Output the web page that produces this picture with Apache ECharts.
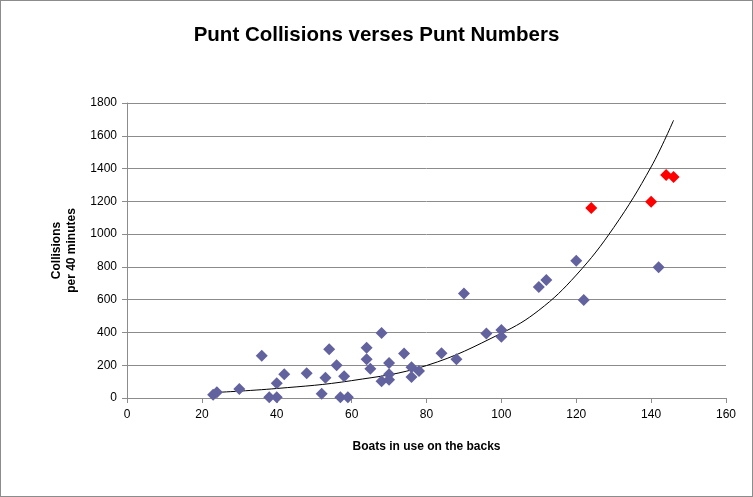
<!DOCTYPE html>
<html>
<head>
<meta charset="utf-8">
<script src="https://cdn.jsdelivr.net/npm/echarts@6/dist/echarts.min.js"></script>
<style>
html,body{margin:0;padding:0;background:#fff;}
#frame{position:absolute;left:0;top:0;width:751px;height:495px;border:1px solid #8c8c8c;}
#chart{position:absolute;left:0;top:0;width:753px;height:497px;}
</style>
</head>
<body>
<div id="frame"></div>
<div id="chart"></div>
<script>
// Blue data points (boats in use, collisions per 40 minutes)
const blueX = [23, 24, 30, 36, 38, 40, 40, 42, 48, 52, 53, 54, 56, 57, 58, 59, 64, 64, 65, 68, 68, 70, 70, 70, 74, 76, 76, 78, 84, 88, 90, 96, 100, 100, 110, 112, 120, 122, 142];
const blueY = [20, 35, 55, 258, 4, 4, 90, 145, 151, 26, 124, 298, 200, 4, 133, 4, 307, 236, 179, 396, 102, 214, 145, 112, 271, 188, 128, 165, 273, 236, 637, 393, 415, 374, 678, 720, 838, 598, 798];
// Red data points
const redX = [124, 140, 144, 146];
const redY = [1160, 1197, 1360, 1349];
// Trendline points
const trendX = [23, 40, 60, 80, 100, 110, 120, 130, 140, 146];
const trendY = [33, 58, 106, 198, 395, 535, 750, 1040, 1410, 1695];
// Axis ticks
const xTicks = [0, 20, 40, 60, 80, 100, 120, 140, 160];
const yTicks = [0, 200, 400, 600, 800, 1000, 1200, 1400, 1600, 1800];

const zip = (a, b) => a.map((v, i) => [v, b[i]]);
const chart = echarts.init(document.getElementById('chart'));
const labelFont = 'Liberation Sans, Arial, sans-serif';
chart.setOption({
  animation: false,
  title: {
    text: 'Punt Collisions verses Punt Numbers',
    left: 'center', top: 20,
    textStyle: { fontFamily: labelFont, fontWeight: 'bold', fontSize: 20.5, color: '#000' }
  },
  grid: { left: 127, right: 27, top: 103, bottom: 99 },
  xAxis: {
    type: 'value', min: xTicks[0], max: xTicks[xTicks.length - 1], interval: 20,
    name: 'Boats in use on the backs', nameLocation: 'middle', nameGap: 43,
    nameTextStyle: { fontFamily: labelFont, fontWeight: 'bold', fontSize: 12, color: '#000' },
    axisLine: { lineStyle: { color: '#8c8c8c' } },
    axisTick: { show: true, inside: false, length: 5, lineStyle: { color: '#8c8c8c' } },
    axisLabel: { fontFamily: labelFont, fontSize: 12, color: '#000', margin: 11, formatter: v => String(v) },
    splitLine: { show: false }
  },
  yAxis: {
    type: 'value', min: yTicks[0], max: yTicks[yTicks.length - 1], interval: 200,
    name: 'Collisions\nper 40 minutes', nameLocation: 'middle', nameGap: 45, nameRotate: 90,
    nameTextStyle: { fontFamily: labelFont, fontWeight: 'bold', fontSize: 12, color: '#000', lineHeight: 15 },
    axisLine: { show: true, lineStyle: { color: '#8c8c8c' } },
    axisTick: { show: true, inside: false, length: 5, lineStyle: { color: '#8c8c8c' } },
    axisLabel: { fontFamily: labelFont, fontSize: 12, color: '#000', margin: 10, formatter: v => String(v) },
    splitLine: { show: true, lineStyle: { color: '#8c8c8c', width: 1 } }
  },
  series: [
    {
      type: 'line', data: zip(trendX, trendY), smooth: 0.4, showSymbol: false,
      lineStyle: { color: '#000', width: 1 }, z: 3, silent: true
    },
    {
      type: 'scatter', data: zip(blueX, blueY), symbol: 'diamond', symbolSize: 12,
      itemStyle: { color: '#62629f', opacity: 1 }, z: 4
    },
    {
      type: 'scatter', data: zip(redX, redY), symbol: 'diamond', symbolSize: 12,
      itemStyle: { color: '#ff0000', opacity: 1 }, z: 5
    }
  ]
});
</script>
</body>
</html>
